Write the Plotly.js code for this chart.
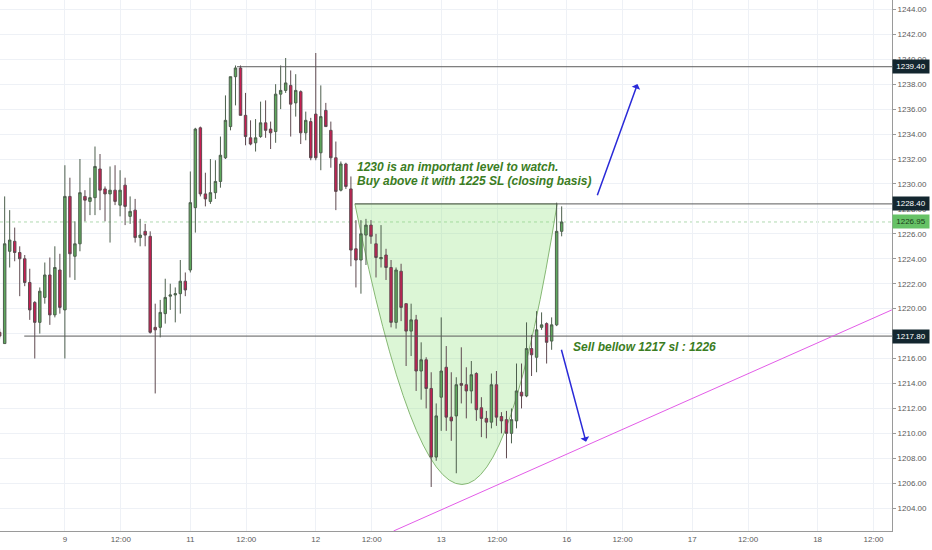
<!DOCTYPE html>
<html>
<head>
<meta charset="utf-8">
<script src="https://cdn.plot.ly/plotly-3.0.1.min.js"></script>
<style>
  html, body { margin: 0; padding: 0; background: #ffffff; }
  #chart { width: 932px; height: 550px; }
</style>
</head>
<body>
<div id="chart"></div>
<script>
// hourly candles (index = bar number)
const openPrices = [
  1218.1, 1217.2, 1224.6, 1225.4, 1224.5, 1224.0, 1222.1, 1220.5, 1218.9, 1220.9,
  1222.7, 1219.5, 1223.1, 1219.9, 1229.0, 1224.2, 1225.2, 1229.0, 1228.6, 1228.9,
  1231.2, 1229.6, 1229.2, 1229.5, 1228.3, 1229.9, 1227.4, 1227.9, 1225.7, 1226.2,
  1225.8, 1218.5, 1218.5, 1219.6, 1221.0, 1221.1, 1221.2, 1222.2, 1223.1, 1228.1,
  1234.5, 1229.2, 1228.6, 1229.3, 1230.2, 1232.1, 1234.6, 1238.6, 1239.3, 1235.5,
  1233.7, 1233.3, 1233.8, 1234.9, 1234.4, 1234.2, 1237.2, 1237.5, 1237.9, 1236.5,
  1237.4, 1234.1, 1235.0, 1235.6, 1232.5, 1235.9, 1234.3, 1232.1, 1229.5, 1231.6,
  1229.6, 1224.8, 1223.9, 1225.9, 1226.7, 1225.2, 1224.0, 1224.3, 1223.3, 1218.9,
  1223.0, 1220.4, 1218.2, 1219.1, 1215.0, 1215.9, 1213.6, 1208.1, 1212.9, 1215.3,
  1211.3, 1211.4, 1214.0, 1213.9, 1213.4, 1214.8, 1212.05, 1211.2, 1210.9, 1213.9,
  1211.35, 1211.1, 1210.0, 1211.0, 1213.3, 1213.0, 1216.8, 1216.1, 1218.5, 1218.8,
  1217.4, 1218.7, 1226.2
];
const highPrices = [
  1218.4, 1229.0, 1227.9, 1226.5, 1225.0, 1224.3, 1223.2, 1220.6, 1221.7, 1223.7,
  1224.1, 1225.0, 1224.4, 1231.5, 1230.5, 1227.0, 1232.0, 1229.5, 1230.5, 1233.0,
  1232.4, 1229.8, 1231.4, 1231.5, 1231.1, 1230.5, 1229.0, 1228.8, 1227.2, 1226.8,
  1226.2, 1220.4, 1220.7, 1222.4, 1222.0, 1221.7, 1223.9, 1222.9, 1231.0, 1234.5,
  1234.6, 1230.9, 1232.0, 1231.9, 1233.8, 1237.1, 1238.6, 1239.5, 1239.5, 1237.3,
  1235.1, 1235.2, 1236.6, 1236.7, 1235.0, 1238.0, 1239.5, 1240.1, 1239.1, 1238.8,
  1237.5, 1235.8, 1235.3, 1240.5, 1237.9, 1236.5, 1235.0, 1233.4, 1231.8, 1231.7,
  1230.6, 1227.1, 1227.1, 1227.2, 1227.1, 1226.0, 1226.7, 1224.8, 1223.9, 1223.3,
  1223.6, 1220.4, 1220.4, 1219.5, 1217.3, 1216.1, 1214.9, 1212.4, 1219.3, 1217.0,
  1214.9, 1214.5, 1216.9, 1215.3, 1215.8, 1214.9, 1212.9, 1211.8, 1214.8, 1215.0,
  1211.7, 1211.8, 1212.0, 1215.6, 1215.6, 1218.9, 1217.9, 1219.8, 1219.7, 1218.9,
  1219.3, 1228.5, 1228.2
];
const lowPrices = [
  1217.6, 1217.2, 1223.3, 1223.8, 1221.0, 1221.8, 1219.1, 1216.0, 1218.0, 1220.4,
  1218.7, 1219.3, 1219.6, 1216.0, 1222.5, 1222.3, 1224.6, 1227.0, 1227.5, 1227.5,
  1227.9, 1227.0, 1225.3, 1228.3, 1227.4, 1226.7, 1226.8, 1225.3, 1225.0, 1225.0,
  1218.0, 1213.2, 1217.7, 1218.8, 1219.9, 1218.9, 1219.6, 1221.0, 1222.9, 1226.1,
  1229.0, 1228.2, 1228.4, 1228.8, 1229.7, 1232.0, 1234.3, 1236.3, 1235.5, 1233.1,
  1233.1, 1232.6, 1233.7, 1233.7, 1232.8, 1233.3, 1236.0, 1237.3, 1233.8, 1235.4,
  1233.2, 1233.5, 1231.9, 1231.9, 1231.1, 1234.6, 1231.3, 1227.9, 1229.4, 1229.6,
  1223.4, 1221.7, 1221.2, 1223.5, 1225.2, 1222.5, 1223.3, 1222.3, 1218.5, 1218.4,
  1219.0, 1215.4, 1216.2, 1213.4, 1212.7, 1212.0, 1205.7, 1207.8, 1210.2, 1210.2,
  1209.4, 1206.8, 1212.4, 1211.2, 1212.4, 1211.0, 1209.7, 1209.6, 1210.4, 1210.6,
  1210.0, 1208.0, 1209.2, 1210.4, 1212.0, 1212.9, 1214.6, 1214.9, 1218.3, 1215.6,
  1216.7, 1218.6, 1225.8
];
const closePrices = [
  1217.8, 1225.2, 1225.5, 1224.5, 1224.0, 1222.1, 1219.9, 1218.9, 1221.4, 1222.7,
  1219.5, 1223.3, 1220.1, 1229.0, 1224.4, 1225.2, 1229.3, 1228.7, 1228.9, 1231.4,
  1229.5, 1229.2, 1229.5, 1228.6, 1229.5, 1228.2, 1227.8, 1225.7, 1225.9, 1225.9,
  1218.1, 1218.3, 1219.7, 1220.9, 1221.1, 1221.2, 1222.2, 1221.5, 1228.5, 1234.4,
  1229.2, 1228.8, 1229.3, 1230.2, 1232.3, 1235.1, 1238.6, 1239.3, 1235.5, 1233.8,
  1233.2, 1233.7, 1234.9, 1234.3, 1234.1, 1237.2, 1237.5, 1238.1, 1236.4, 1237.5,
  1234.1, 1235.1, 1232.1, 1232.1, 1235.4, 1234.6, 1232.1, 1229.4, 1231.6, 1229.8,
  1224.7, 1223.9, 1226.0, 1226.7, 1225.8, 1224.1, 1224.1, 1223.3, 1218.9, 1223.1,
  1220.1, 1218.2, 1219.1, 1215.0, 1215.9, 1213.6, 1208.1, 1211.4, 1215.0, 1211.3,
  1211.0, 1213.9, 1213.85, 1213.4, 1214.7, 1211.9, 1211.2, 1210.9, 1213.9, 1211.3,
  1211.0, 1210.0, 1211.1, 1213.4, 1213.0, 1216.8, 1216.3, 1218.3, 1218.7, 1217.3,
  1218.7, 1226.2, 1226.95
];
const barIndex = openPrices.map((v, i) => i);

// day labels on the time axis (bar positions)
const dayTickPos = [13, 24.15, 38, 49.15, 63, 74.15, 88, 99.15, 113, 124.15, 138, 149.15, 163, 174.15];
const dayTickText = ["9", "12:00", "11", "12:00", "12", "12:00", "13", "12:00", "16", "12:00", "17", "12:00", "18", "12:00"];

// drawn levels and the last price
const levelPrices = [1239.4, 1228.4, 1217.8];
const levelStartBar = [47.3, 70.8, 4.9];
const lastPrice = 1226.95;

// trendline and cup drawing (bar, price)
const trendStart = [78.5, 1202.17];
const trendEnd = [177.8, 1219.9];
const cupLeft = [70.8, 1228.4];
const cupCtrl = [93.3, 1183.4];
const cupRight = [111.1, 1228.4];

const xRange = [0.07, 177.83];
const yRange = [1202.17, 1244.75];

const gridColor = "#eef1f6";
const axisColor = "#9a9a9a";
const labelColor = "#5a5a5a";
const noteGreen = "#3b7d23";
const arrowBlue = "#2a2ad8";

var candles = {
  type: "candlestick",
  x: barIndex,
  open: openPrices,
  high: highPrices,
  low: lowPrices,
  close: closePrices,
  increasing: { line: { color: "#4d5f4d", width: 1 }, fillcolor: "#5ea85c" },
  decreasing: { line: { color: "#5f4a50", width: 1 }, fillcolor: "#c81e52" },
  whiskerwidth: 0,
  hoverinfo: "skip",
  showlegend: false,
};

var shapes = [];

// cup fill
shapes.push({
  type: "path",
  xref: "x",
  yref: "y",
  path:
    "M " + cupLeft[0] + "," + cupLeft[1] +
    " Q " + cupCtrl[0] + "," + cupCtrl[1] + " " + cupRight[0] + "," + cupRight[1] + " Z",
  fillcolor: "rgba(140,225,120,0.3)",
  line: { color: "#86b874", width: 1 },
  layer: "between",
});

levelPrices.forEach((p, i) => {
  shapes.push({
    type: "line",
    xref: "x",
    yref: "y",
    x0: levelStartBar[i],
    x1: xRange[1],
    y0: p,
    y1: p,
    line: { color: "#5b5b5b", width: 1 },
  });
});

// last price line, faint dots
shapes.push({
  type: "line",
  xref: "paper",
  yref: "y",
  x0: 0,
  x1: 1,
  y0: lastPrice,
  y1: lastPrice,
  line: { color: "#9ccf9c", width: 0.8, dash: "dot" },
  layer: "between",
});

shapes.push({
  type: "line",
  xref: "x",
  yref: "y",
  x0: trendStart[0],
  y0: trendStart[1],
  x1: trendEnd[0],
  y1: trendEnd[1],
  line: { color: "#e35ce8", width: 1 },
});

function priceTag(price, bg, fg) {
  return {
    xref: "paper",
    yref: "y",
    x: 1,
    y: price,
    xanchor: "left",
    yanchor: "middle",
    text: price.toFixed(2),
    showarrow: false,
    bgcolor: bg,
    width: 32,
    height: 9,
    borderpad: 2,
    font: { family: "Liberation Sans, Arial, sans-serif", size: 8, color: fg },
  };
}

function note(text, bar, price) {
  return {
    xref: "x",
    yref: "y",
    x: bar,
    y: price,
    xanchor: "left",
    yanchor: "middle",
    text: text,
    showarrow: false,
    font: {
      family: "Liberation Sans, Arial, sans-serif",
      size: 12,
      color: noteGreen,
      weight: "bold",
      style: "italic",
    },
  };
}

function arrow(tail, head) {
  return {
    xref: "x",
    yref: "y",
    axref: "x",
    ayref: "y",
    x: head[0],
    y: head[1],
    ax: tail[0],
    ay: tail[1],
    text: "",
    showarrow: true,
    arrowhead: 1,
    arrowsize: 1,
    arrowwidth: 1.5,
    arrowcolor: arrowBlue,
    standoff: 0,
  };
}

var annotations = [
  note("1230 is an important level to watch.", 70.9, 1231.38),
  note("Buy above it with 1225 SL (closing basis)", 70.9, 1230.26),
  note("Sell bellow 1217 sl : 1226", 113.9, 1216.95),
  arrow([119.0, 1228.98], [127.1, 1238.01]),
  arrow([111.87, 1216.82], [116.85, 1209.33]),
  priceTag(1239.4, "#13262f", "#ffffff"),
  priceTag(1228.4, "#13262f", "#ffffff"),
  priceTag(lastPrice, "#66c266", "#1b3d1b"),
  priceTag(1217.8, "#13262f", "#ffffff"),
];

var layout = {
  width: 932,
  height: 550,
  margin: { l: 0, r: 40, t: 0, b: 19 },
  paper_bgcolor: "#ffffff",
  plot_bgcolor: "#ffffff",
  showlegend: false,
  dragmode: false,
  xaxis: {
    type: "linear",
    range: xRange,
    rangeslider: { visible: false },
    tickvals: dayTickPos,
    ticktext: dayTickText,
    showgrid: true,
    gridcolor: gridColor,
    zeroline: false,
    showline: true,
    linecolor: axisColor,
    linewidth: 1,
    ticks: "",
    tickfont: { family: "Liberation Sans, Arial, sans-serif", size: 8, color: labelColor },
  },
  yaxis: {
    side: "right",
    range: yRange,
    tick0: 0,
    dtick: 2,
    tickformat: ".2f",
    showgrid: true,
    gridcolor: gridColor,
    zeroline: false,
    showline: true,
    linecolor: axisColor,
    linewidth: 1,
    ticks: "outside",
    ticklen: 3,
    tickcolor: axisColor,
    tickfont: { family: "Liberation Sans, Arial, sans-serif", size: 8, color: labelColor },
  },
  shapes: shapes,
  annotations: annotations,
};

Plotly.newPlot("chart", [candles], layout, { staticPlot: true, displayModeBar: false });
</script>
</body>
</html>
